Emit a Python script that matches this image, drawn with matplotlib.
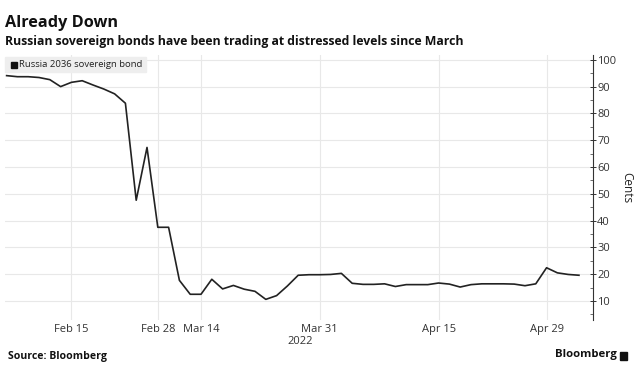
import numpy as np
import matplotlib.pyplot as plt
from matplotlib.patches import Rectangle

# bond price, cents on the dollar, one value per trading session shown
prices = [94.1, 93.7, 93.7, 93.4, 92.6, 90.0, 91.6, 92.2, 90.6, 89.1,
          87.3, 83.8, 47.6, 67.3, 37.5, 37.5, 17.7, 12.5, 12.5, 18.1,
          14.5, 15.8, 14.4, 13.6, 10.6, 12.0, 15.6, 19.6, 19.8, 19.8,
          19.9, 20.3, 16.6, 16.2, 16.2, 16.4, 15.4, 16.1, 16.1, 16.1,
          16.7, 16.3, 15.2, 16.1, 16.4, 16.4, 16.4, 16.3, 15.7, 16.4,
          22.4, 20.5, 19.9, 19.6]
tick_idx = [6, 14, 18, 29, 40, 50]
tick_labels = ['Feb 15', 'Feb 28', 'Mar 14', 'Mar 31', 'Apr 15', 'Apr 29']
y_ticks = [10, 20, 30, 40, 50, 60, 70, 80, 90, 100]

plt.rcParams['font.family'] = ['Open Sans', 'DejaVu Sans']

fig = plt.figure(figsize=(6.4, 3.76), dpi=100)
ax = fig.add_axes([5/640, 56/376, 588/640, 265/376])

x = np.arange(len(prices))
ax.plot(x, prices, color='#222222', linewidth=1.2, zorder=3)

ax.set_xlim(-0.15, 54.3)
ax.set_ylim(2.9, 101.8)

ax.set_xticks(tick_idx)
ax.set_xticklabels(tick_labels)
ax.set_yticks(y_ticks)
ax.set_yticks(np.arange(5, 101, 5), minor=True)
ax.yaxis.tick_right()
ax.yaxis.set_label_position('right')
ax.set_ylabel('Cents', fontsize=8.5, color='#222222', rotation=270, labelpad=12)

ax.grid(True, color='#e8e8e8', linewidth=0.8, zorder=0)
for s in ['top', 'left', 'bottom']:
    ax.spines[s].set_visible(False)
ax.spines['right'].set_color('#333333')
ax.spines['right'].set_linewidth(0.8)

ax.tick_params(axis='x', length=0, labelsize=8, labelcolor='#333333', pad=3)
ax.tick_params(axis='y', which='major', direction='inout', length=4, width=0.7,
               labelsize=8, labelcolor='#333333', pad=1, color='#333333')
ax.tick_params(axis='y', which='minor', direction='in', length=2, width=0.5, color='#333333')

fig.text(287/640, 1 - 342/376, '2022', fontsize=8, color='#333333',
         ha='left', va='center')

# legend box
fig.patches.append(Rectangle((5/640, 1 - 72/376), 141/640, 15/376,
                             transform=fig.transFigure, color='#eeeeee', zorder=1))
fig.patches.append(Rectangle((11/640, 1 - 67.5/376), 6/640, 6/376,
                             transform=fig.transFigure, color='#111111', zorder=2))
fig.text(19/640, 1 - 64.5/376, 'Russia 2036 sovereign bond', fontsize=6.8,
         color='#222222', va='center', ha='left')

fig.text(5/640, 1 - 15/376, 'Already Down', fontsize=11.7, fontweight='bold',
         color='#111111', va='top')
fig.text(5/640, 1 - 35/376, 'Russian sovereign bonds have been trading at distressed levels since March',
         fontsize=8.8, fontweight='bold', color='#111111', va='top')
fig.text(8/640, 1 - 356/376, 'Source: Bloomberg', fontsize=7.6, fontweight='bold',
         color='#111111', va='center')
fig.text(617/640, 1 - 355/376, 'Bloomberg', fontsize=8.2, fontweight='bold',
         color='#111111', va='center', ha='right')
fig.patches.append(Rectangle((620/640, 1 - 359.5/376), 7/640, 8/376,
                             transform=fig.transFigure, color='#111111'))

fig.savefig('out.png', dpi=100)
